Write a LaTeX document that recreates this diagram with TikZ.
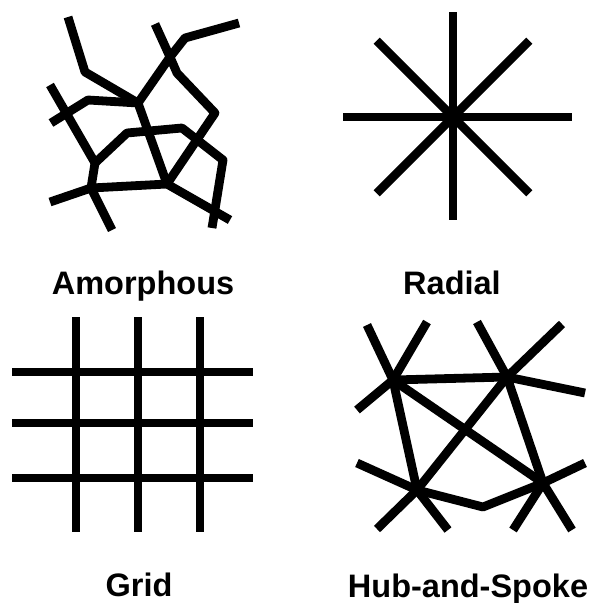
\documentclass[tikz,border=0pt]{standalone}
\usepackage{fontspec}
\setmainfont{Liberation Sans}
\usepackage{tikz}
\usetikzlibrary{positioning}

\begin{document}
\begin{tikzpicture}[
  x=1pt, y=-1pt,
  bar/.style={line width=8.8pt, line cap=butt, line join=round},
  lbl/.style={anchor=base, inner sep=0pt,
              font=\fontsize{32.5}{38}\selectfont\bfseries}
]
\useasboundingbox (0,0) rectangle (596,603);

%─── Amorphous ────────────────────────────────────────────────────────────
\coordinate (j1) at (138,103);
\coordinate (j2) at (170,57);
\coordinate (j3) at (167,184);
\coordinate (j4) at (95,163);
\coordinate (j5) at (91,188);
\draw[bar] (68,17) -- (85,72) -- (j1);
\draw[bar] (155,24) -- (j2) -- (185,38) -- (239,23);
\draw[bar] (j2) -- (j1) -- (j3);
\draw[bar] (j2) -- (177,73) -- (215,113) -- (j3) -- (230,220);
\draw[bar] (50,85) -- (j4);
\draw[bar] (51,123) -- (88,100) -- (j1);
\draw[bar] (j4) -- (127,133) -- (182,128) -- (223,160) -- (212,228);
\draw[bar] (j4) -- (j5) -- (j3);
\draw[bar] (50,202) -- (j5) -- (112,230);
\node[lbl] (amorph) at (143,294) {Amorphous};

%─── Radial ───────────────────────────────────────────────────────────────
\coordinate (hub) at (453,117);
\draw[bar] (453,12) -- (453,220);
\draw[bar] (343,117) -- (572,117);
\foreach \a in {45,135,225,315}
  \draw[bar] (hub) -- ++(\a:108);
\node[lbl] (radial) at (452,294) {Radial};

%─── Grid ─────────────────────────────────────────────────────────────────
\foreach \gx in {76,138,200}
  \draw[bar] (\gx,317) -- (\gx,532);
\foreach \gy in {372,423,478}
  \draw[bar] (12,\gy) -- (253,\gy);
\node[lbl] (grid) at (139,596) {Grid};

%─── Hub-and-Spoke ────────────────────────────────────────────────────────
\coordinate (h1) at (393,380);
\coordinate (h2) at (507,377);
\coordinate (h3) at (417,490);
\coordinate (h4) at (543,483);
\coordinate (kink) at (483,507);
\draw[bar] (h1) -- (h2);
\draw[bar] (h1) -- (h3);
\draw[bar] (h1) -- (h4);
\draw[bar] (h2) -- (h3);
\draw[bar] (h2) -- (h4);
\draw[bar] (h3) -- (kink) -- (h4);
% spokes
\draw[bar] (h1) -- (367,325);
\draw[bar] (h1) -- (427,322);
\draw[bar] (h1) -- (357,410);
\draw[bar] (h2) -- (477,322);
\draw[bar] (h2) -- (562,324);
\draw[bar] (h2) -- (585,393);
\draw[bar] (h3) -- (357,463);
\draw[bar] (h3) -- (377,529);
\draw[bar] (h3) -- (448,530);
\draw[bar] (h4) -- (585,463);
\draw[bar] (h4) -- (513,530);
\draw[bar] (h4) -- (572,530);
\node[lbl] (hubspoke) at (468,597) {Hub-and-Spoke};

\end{tikzpicture}
\end{document}
